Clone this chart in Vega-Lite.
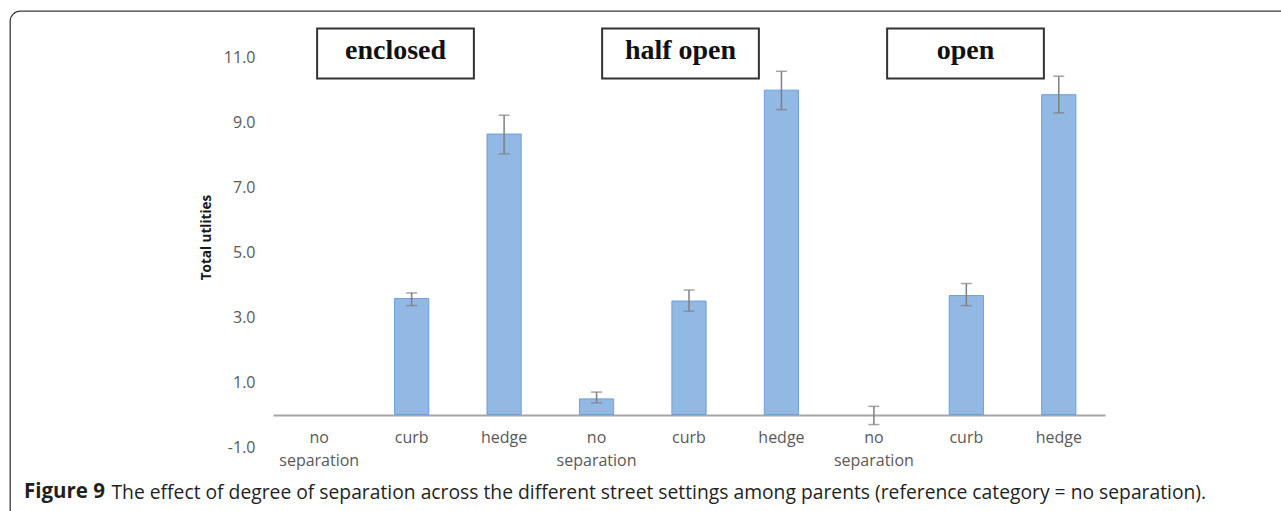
{
  "$schema": "https://vega.github.io/schema/vega-lite/v6.json",
  "width": 1291,
  "height": 520,
  "autosize": {"type": "none"},
  "padding": {"left": 10, "top": 11, "right": -20, "bottom": -20},
  "background": "white",
  "config": {
    "view": {"stroke": "#3a3a3a", "strokeWidth": 1.3, "cornerRadius": 10},
    "font": "Open Sans",
    "axisX": {"domain": true, "domainColor": "#a6a6a6", "domainWidth": 2, "ticks": false, "grid": false,
              "offset": -116, "labelPadding": 14, "labelAngle": 0,
              "labelFont": "Open Sans", "labelFontSize": 16, "labelColor": "#595959", "labelLineHeight": 23,
              "titleFont": "Open Sans", "titleFontSize": 19.3, "titleFontWeight": "normal", "titleColor": "#231f20",
              "titleX": 101, "titleY": 77, "titleAlign": "left", "titleBaseline": "middle"}
  },
  "title": {
    "text": "Figure 9", "orient": "top", "anchor": "start", "frame": "group",
    "offset": 0, "dx": 14, "dy": 501, "baseline": "middle",
    "font": "Open Sans", "fontSize": 20.5, "fontWeight": "bold", "color": "#231f20"
  },
  "datasets": {
    "utilities": [
      {"key": "enclosed/no separation", "setting": "enclosed", "separation": "no separation", "utility": 0, "lo": null, "hi": null},
      {"key": "enclosed/curb", "setting": "enclosed", "separation": "curb", "utility": 3.57, "lo": 3.35, "hi": 3.74},
      {"key": "enclosed/hedge", "setting": "enclosed", "separation": "hedge", "utility": 8.63, "lo": 8.02, "hi": 9.21},
      {"key": "half open/no separation", "setting": "half open", "separation": "no separation", "utility": 0.48, "lo": 0.36, "hi": 0.69},
      {"key": "half open/curb", "setting": "half open", "separation": "curb", "utility": 3.49, "lo": 3.18, "hi": 3.83},
      {"key": "half open/hedge", "setting": "half open", "separation": "hedge", "utility": 9.98, "lo": 9.38, "hi": 10.56},
      {"key": "open/no separation", "setting": "open", "separation": "no separation", "utility": 0, "lo": -0.31, "hi": 0.25},
      {"key": "open/curb", "setting": "open", "separation": "curb", "utility": 3.66, "lo": 3.35, "hi": 4.03},
      {"key": "open/hedge", "setting": "open", "separation": "hedge", "utility": 9.84, "lo": 9.28, "hi": 10.41}
    ],
    "settings": [
      {"setting": "enclosed"},
      {"setting": "half open"},
      {"setting": "open"}
    ]
  },
  "layer": [
    {
      "data": {"name": "utilities"},
      "encoding": {
        "x": {
          "field": "key", "type": "nominal",
          "scale": {
            "domain": ["enclosed/no separation", "enclosed/curb", "enclosed/hedge",
                       "half open/no separation", "half open/curb", "half open/hedge",
                       "open/no separation", "open/curb", "open/hedge"],
            "range": [263, 1095], "paddingInner": 0.63, "paddingOuter": 0.315
          },
          "axis": {
            "title": "The effect of degree of separation across the different street settings among parents (reference category = no separation).",
            "labelExpr": "split(datum.value, '/')[1] == 'no separation' ? ['no', 'separation'] : split(datum.value, '/')[1]"
          }
        },
        "y": {
          "field": "utility", "type": "quantitative",
          "scale": {"domain": [-1, 12], "range": [436, 13.5], "nice": false, "zero": false},
          "axis": {
            "orient": "left", "zindex": 2,
            "title": "Total utlities", "values": [-1, 1, 3, 5, 7, 9, 11], "format": ".1f",
            "labelExpr": "replace(datum.label, '\u2212', '-')",
            "domain": false, "ticks": false, "grid": false, "offset": -247, "labelPadding": 2,
            "labelFont": "Open Sans", "labelFontSize": 16, "labelColor": "#595959",
            "titleFont": "Open Sans", "titleFontSize": 13.5, "titleFontWeight": "bold", "titleColor": "#1a1a1a",
            "titleX": -51, "titleY": 226, "titleAngle": -90, "titleAlign": "center", "titleBaseline": "middle"
          }
        }
      },
      "layer": [
        {
          "mark": {"type": "bar", "fill": "#92b8e4", "stroke": "#6d9fd9", "strokeWidth": 1},
          "encoding": {
            "strokeOpacity": {"condition": {"test": "datum.utility == 0", "value": 0}, "value": 1}
          }
        },
        {
          "transform": [{"filter": "isValid(datum.lo)"}],
          "mark": {"type": "rule", "color": "#7f7f7f", "strokeWidth": 1.5},
          "encoding": {
            "y": {"field": "lo", "type": "quantitative"},
            "y2": {"field": "hi"}
          }
        },
        {
          "transform": [{"filter": "isValid(datum.lo)"}],
          "mark": {"type": "tick", "color": "#7f7f7f", "size": 11, "thickness": 1.5},
          "encoding": {
            "y": {"field": "lo", "type": "quantitative"}
          }
        },
        {
          "transform": [{"filter": "isValid(datum.hi)"}],
          "mark": {"type": "tick", "color": "#7f7f7f", "size": 11, "thickness": 1.5},
          "encoding": {
            "y": {"field": "hi", "type": "quantitative"}
          }
        }
      ]
    },
    {
      "data": {"name": "settings"},
      "encoding": {
        "x": {
          "field": "setting", "type": "nominal", "sort": null,
          "scale": {"range": [243, 1098], "paddingInner": 0.45, "paddingOuter": 0.225},
          "axis": null
        }
      },
      "layer": [
        {
          "mark": {"type": "rect", "fill": "white", "stroke": "#333333", "strokeWidth": 2},
          "encoding": {
            "y": {"datum": 10.34, "type": "quantitative"},
            "y2": {"datum": 11.88}
          }
        },
        {
          "mark": {"type": "text", "font": "Liberation Serif", "fontWeight": "bold", "fontSize": 28, "color": "#111111", "baseline": "middle", "align": "center"},
          "encoding": {
            "y": {"datum": 11.18, "type": "quantitative"},
            "text": {"field": "setting"}
          }
        }
      ]
    }
  ],
  "resolve": {"scale": {"x": "independent"}, "axis": {"x": "independent"}}
}
